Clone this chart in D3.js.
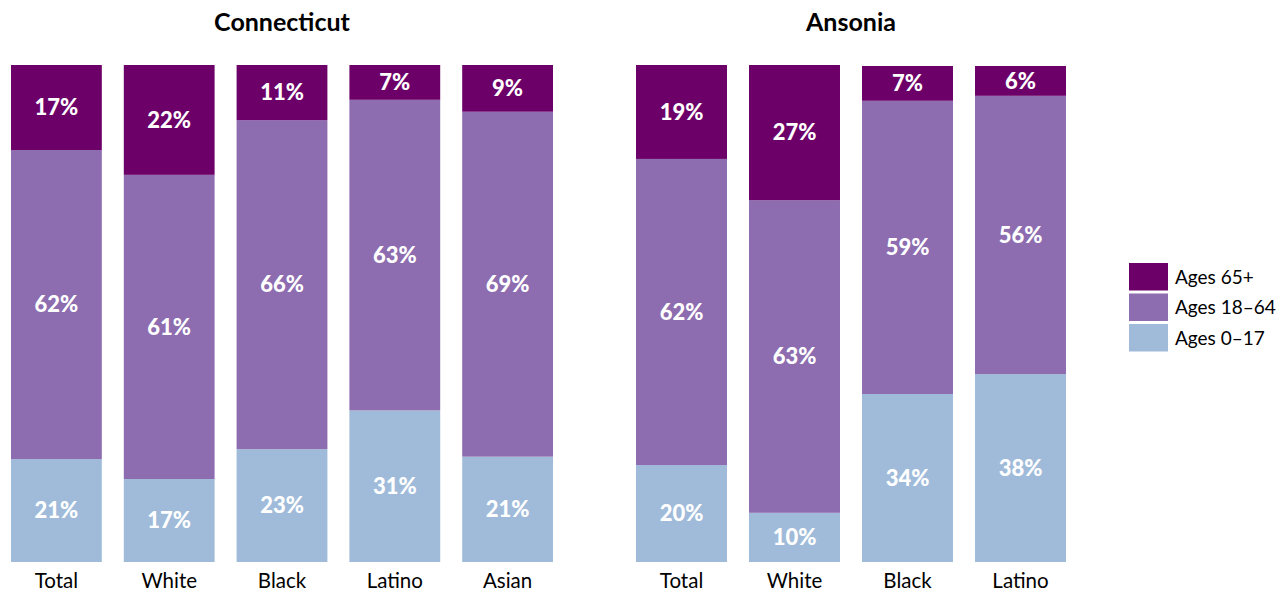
<!DOCTYPE html>
<html>
<head>
<meta charset="utf-8">
<script src="https://cdn.jsdelivr.net/npm/d3@7"></script>
<style>
  body { margin: 0; background: #fff; }
  text { font-family: "Lato", "Noto Sans", sans-serif; }
</style>
</head>
<body>
<div id="chart"></div>
<script>
// data (percent of population by age group)
var keys = ["age0_17", "age18_64", "age65"];
var keyLabels = ["Ages 0\u201317", "Ages 18\u201364", "Ages 65+"];

var ctGroups = ["Total", "White", "Black", "Latino", "Asian"];
var ctAge0_17 = [20.7, 16.7, 22.7, 30.5, 21.2];
var ctAge18_64 = [62.2, 61.2, 66.2, 62.5, 69.4];
var ctAge65 = [17.1, 22.1, 11.1, 7.0, 9.4];

var anGroups = ["Total", "White", "Black", "Latino"];
var anAge0_17 = [19.5, 9.9, 33.8, 37.8];
var anAge18_64 = [61.6, 62.9, 59.0, 56.0];
var anAge65 = [18.9, 27.2, 7.0, 6.0];

var width = 1285, height = 594;
var plotTop = 65, plotBottom = 562;

var color = d3.scaleOrdinal()
  .domain(keys)
  .range(["#9fbbd9", "#8d6cb0", "#6c0068"]);

var svg = d3.select("#chart")
  .append("svg")
  .attr("width", width)
  .attr("height", height);

var y = d3.scaleLinear().domain([0, 100]).range([plotBottom, plotTop]);

function buildRows(groups, a, b, c) {
  return groups.map(function (g, i) {
    return { group: g, age0_17: a[i], age18_64: b[i], age65: c[i] };
  });
}

function drawPanel(title, groups, rows, x0, x1) {
  var x = d3.scaleBand()
    .domain(groups)
    .range([x0, x1])
    .paddingInner(0.195)
    .paddingOuter(0.0975);

  var g = svg.append("g");

  g.append("text")
    .attr("x", (x0 + x1) / 2)
    .attr("y", 22)
    .attr("dy", "0.35em")
    .attr("text-anchor", "middle")
    .attr("font-size", 25)
    .attr("font-weight", "bold")
    .attr("fill", "#000")
    .text(title);

  var series = d3.stack().keys(keys)(rows);

  var layer = g.selectAll("g.layer")
    .data(series)
    .enter()
    .append("g")
    .attr("class", "layer")
    .attr("fill", function (d) { return color(d.key); });

  layer.selectAll("rect")
    .data(function (d) { return d; })
    .enter()
    .append("rect")
    .attr("x", function (d) { return x(d.data.group); })
    .attr("y", function (d) { return y(d[1]); })
    .attr("width", x.bandwidth())
    .attr("height", function (d) { return y(d[0]) - y(d[1]); });

  layer.selectAll("text")
    .data(function (d) { return d; })
    .enter()
    .append("text")
    .attr("x", function (d) { return x(d.data.group) + x.bandwidth() / 2; })
    .attr("y", function (d) { return (y(d[0]) + y(d[1])) / 2; })
    .attr("dy", "0.35em")
    .attr("text-anchor", "middle")
    .attr("font-size", 22)
    .attr("font-weight", "900")
    .attr("fill", "#fff")
    .text(function (d) { return Math.round(d[1] - d[0]) + "%"; });

  var axis = g.append("g")
    .attr("transform", "translate(0," + plotBottom + ")")
    .call(d3.axisBottom(x).tickSize(0).tickPadding(11));
  axis.select(".domain").remove();
  axis.selectAll("text")
    .attr("font-size", 20.5)
    .attr("fill", "#000")
    .style("font-family", "Lato, 'Noto Sans', sans-serif");
}

drawPanel("Connecticut", ctGroups, buildRows(ctGroups, ctAge0_17, ctAge18_64, ctAge65), 0, 564);
drawPanel("Ansonia", anGroups, buildRows(anGroups, anAge0_17, anAge18_64, anAge65), 625, 1077);

// legend
var legend = svg.append("g").attr("transform", "translate(1129,263)");
var legendKeys = keys.slice().reverse();
var legendLabels = keyLabels.slice().reverse();

legend.selectAll("rect")
  .data(legendKeys)
  .enter()
  .append("rect")
  .attr("x", 0)
  .attr("y", function (d, i) { return i * 30.5; })
  .attr("width", 39)
  .attr("height", 27.5)
  .attr("fill", function (d) { return color(d); });

legend.selectAll("text")
  .data(legendLabels)
  .enter()
  .append("text")
  .attr("x", 46)
  .attr("y", function (d, i) { return i * 30.5 + 14; })
  .attr("dy", "0.35em")
  .attr("font-size", 19)
  .attr("fill", "#000")
  .text(function (d) { return d; });
</script>
</body>
</html>
